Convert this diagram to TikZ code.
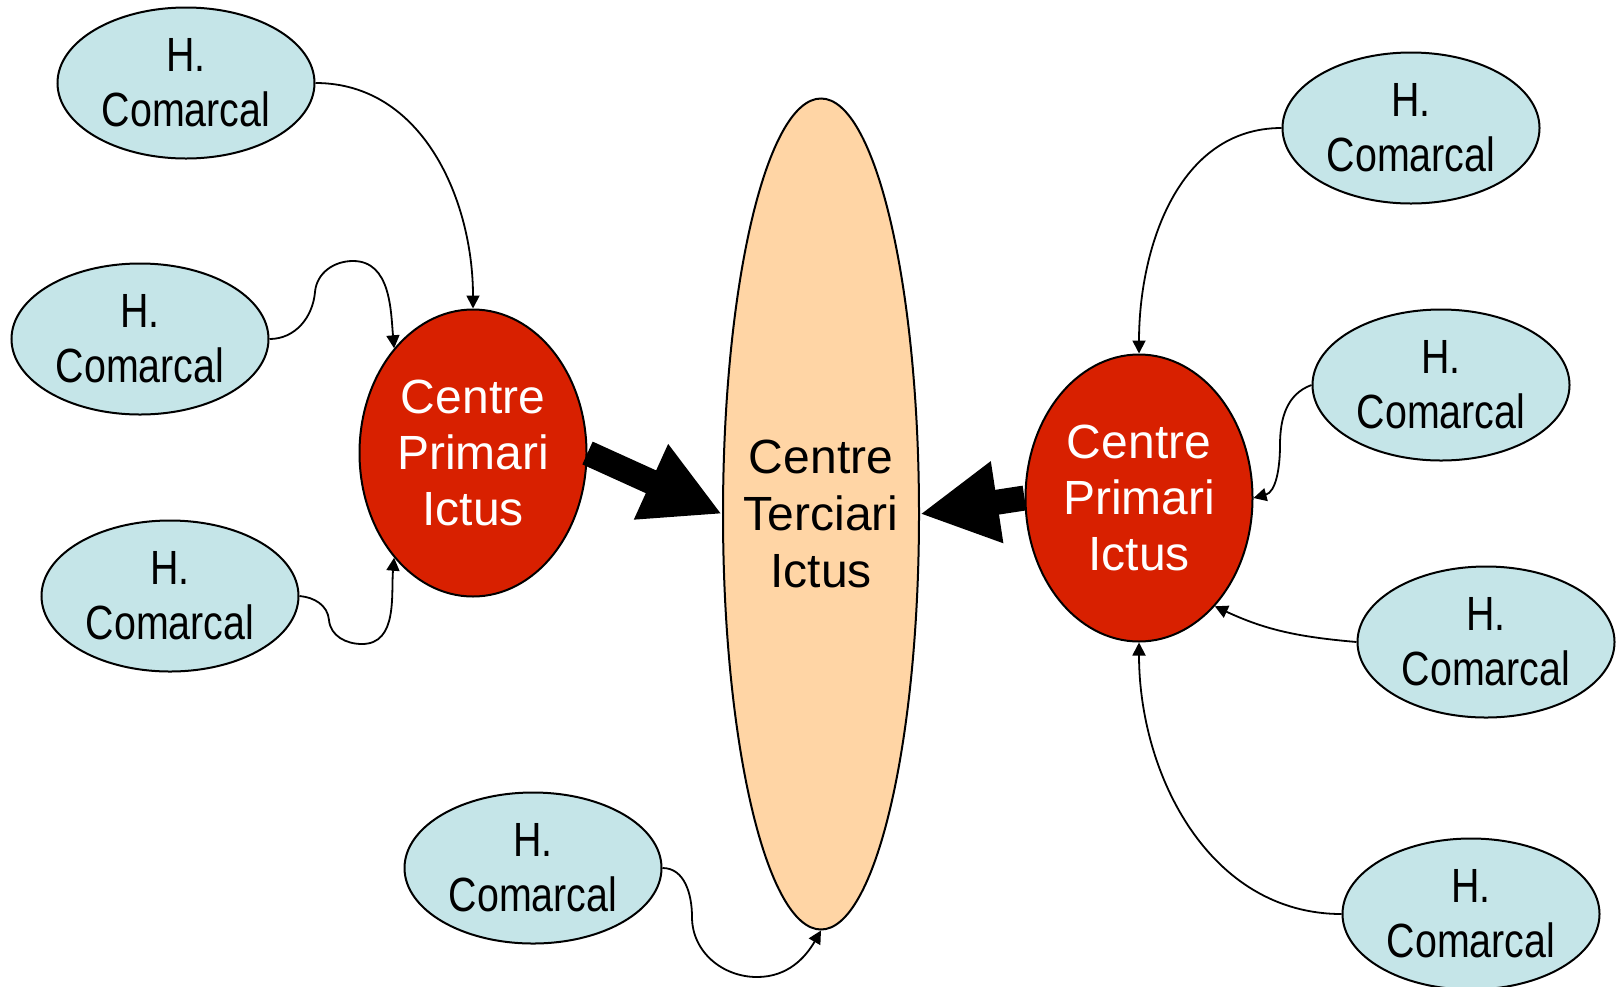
\documentclass[tikz,border=0pt]{standalone}
\usepackage{fontspec}
\setmainfont{Liberation Sans}
\newfontfamily\narrowsans[FakeStretch=0.82]{Liberation Sans}
\usepackage{tikz}
\usetikzlibrary{shapes.geometric,arrows.meta}
\definecolor{hospblue}{RGB}{197,229,232}
\definecolor{ictusred}{RGB}{216,32,0}
\definecolor{tercpeach}{RGB}{255,213,165}
\tikzstyle{hosp} = [ellipse, draw, line width=2pt, fill=hospblue,
  minimum width=257pt, minimum height=151pt, inner sep=0pt, align=center,
  font=\narrowsans\fontsize{48}{55}\selectfont]
\tikzstyle{primari} = [ellipse, draw, line width=2pt, fill=ictusred, text=white,
  minimum width=227pt, minimum height=287pt, inner sep=0pt, align=center,
  font=\fontsize{48}{56}\selectfont]
\tikzstyle{terciari} = [ellipse, draw, line width=2pt, fill=tercpeach,
  minimum width=196pt, minimum height=831pt, inner sep=0pt]
\tikzstyle{line} = [draw, line width=1.8pt, -{Triangle[length=13pt,width=13pt]}]
\tikzstyle{bigline} = [draw, line width=25pt, -{Triangle[length=78pt,width=77pt]}]
\newcommand{\hcomarcal}[1]{node (h#1)[hosp]{H.\\Comarcal}}

\begin{document}
\begin{tikzpicture}[x=1pt,y=-1pt]
  \useasboundingbox (0,0) rectangle (1621,986);

  % Draw diagram elements
  \path (186,83) \hcomarcal{1};
  \path (140,339) \hcomarcal{2};
  \path (170,596) \hcomarcal{3};
  \path (533,868) \hcomarcal{4};
  \path (1411,128) \hcomarcal{5};
  \path (1441,385) \hcomarcal{6};
  \path (1486,642) \hcomarcal{7};
  \path (1471,914) \hcomarcal{8};

  \node (cpl)[primari] at (473,453) {Centre\\Primari\\Ictus};
  \node (cpr)[primari] at (1139,498) {Centre\\Primari\\Ictus};
  \node (tci)[terciari, label={[font=\fontsize{48}{57}\selectfont, align=center]center:{Centre\\Terciari\\Ictus}}] at (821,514) {};

  % Draw arrows between elements
  \path [bigline] (cpl.east) -- (tci.west);
  \path [bigline] (cpr.west) -- (tci.east);

  \path [line] (h1.east) to[out=0,in=90] (cpl.north);
  \path [line] (h2.east) to[out=0,in=-95] (315,292) to[out=85,in=180] (353,261) to[out=0,in=95] (cpl.127);
  \path [line] (h3.east) to[out=-5,in=95] (329,620) to[out=-85,in=180] (362,644) to[out=0,in=-95] (cpl.233);
  \path [line] (h4.east) to[out=0,in=90] (692,917) to[out=-90,in=180] (757,977) to[out=0,in=-120] (tci.south);
  \path [line] (h5.west) to[out=180,in=90] (cpr.north);
  \path [line] (h6.west) to[out=200,in=90] (1280,445) to[out=-90,in=15] (cpr.east);
  \path [line] (h7.west) to[out=175,in=-25] (cpr.-55);
  \path [line] (h8.west) to[out=180,in=-90] (cpr.south);

\end{tikzpicture}
\end{document}
